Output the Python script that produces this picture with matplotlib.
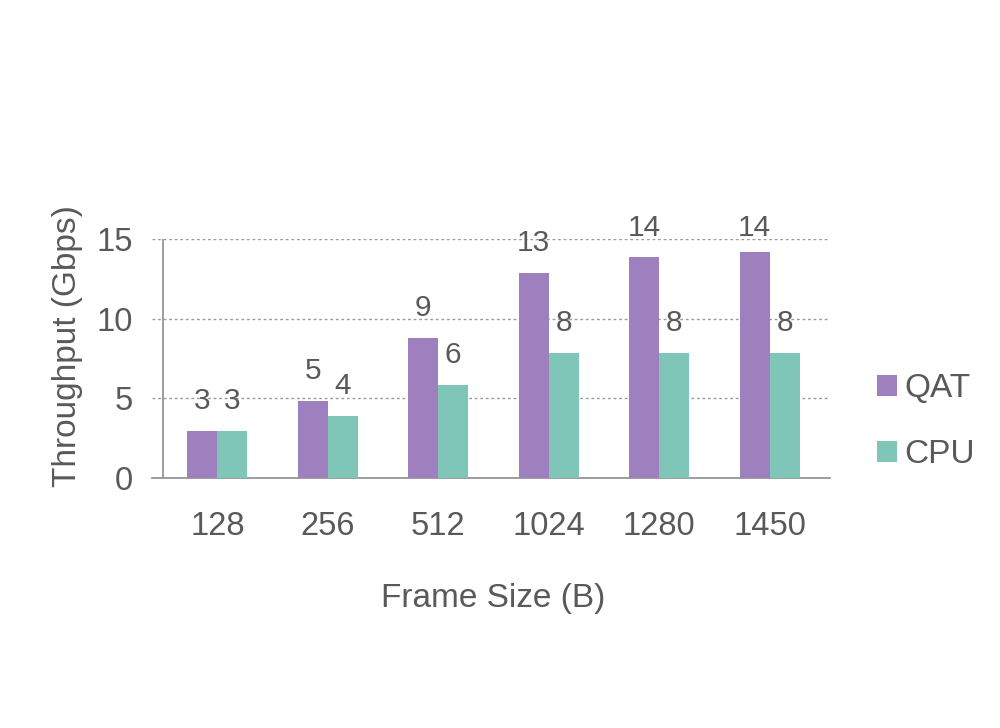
import numpy as np
import matplotlib
matplotlib.use("Agg")
import matplotlib.pyplot as plt

plt.rcParams['font.family'] = ['Liberation Sans', 'DejaVu Sans']

# data
frame_sizes = ['128', '256', '512', '1024', '1280', '1450']
qat = [2.95, 4.85, 8.8, 12.85, 13.85, 14.2]
cpu = [2.95, 3.85, 5.8, 7.85, 7.85, 7.85]
qat_labels = ['3', '5', '9', '13', '14', '14']
cpu_labels = ['3', '4', '6', '8', '8', '8']

txt = '#595959'
purple = '#9d80bd'
teal = '#80c6b8'

fig = plt.figure(figsize=(10, 7.28), dpi=100)
ax = fig.add_axes([0.152, 0.3438, 0.678, 0.3279])

x = np.arange(len(frame_sizes))
w = 0.2715
b1 = ax.bar(x - w/2, qat, w, color=purple, label='QAT', zorder=3)
b2 = ax.bar(x + w/2, cpu, w, color=teal, label='CPU', zorder=3)

# labels sit ~22px above the bar, but not higher than the plot top allows
def put_labels(bars, labels):
    for rect, lab in zip(bars, labels):
        y = min(rect.get_height() + 1.38, 15.2)
        ax.text(rect.get_x() + rect.get_width()/2, y, lab, ha='center',
                va='baseline', fontsize=21.5, color=txt, zorder=4,
                clip_on=False)

put_labels(b1, qat_labels)
put_labels(b2, cpu_labels)

ax.set_xlim(-0.591, 5.545)
ax.set_ylim(0, 15)
ax.set_yticks([0, 5, 10, 15])
ax.set_xticks(x)
ax.set_xticklabels(frame_sizes)
ax.tick_params(length=0, labelsize=23.5, labelcolor=txt)
ax.tick_params(axis='y', pad=14)
ax.tick_params(axis='x', pad=24)

for g in [5, 10, 15]:
    ax.axhline(g, color='#9a9a9a', lw=1, linestyle=(0, (2, 2)), zorder=1)

for s in ['top', 'right', 'left']:
    ax.spines[s].set_visible(False)
ax.spines['bottom'].set_color('#8c8c8c')
ax.spines['bottom'].set_linewidth(1.2)
ax.axvline(-0.491, color='#8c8c8c', lw=1.2, zorder=2)

fig.text(0.068, 1 - 346/728, 'Throughput (Gbps)', rotation=90, ha='center',
         va='center', fontsize=24, color=txt)
fig.text(0.4935, 1 - 598.5/728, 'Frame Size (B)', ha='center', va='center',
         fontsize=24, color=txt)

ax.legend(loc='center left', bbox_to_anchor=(0.877, 1 - 421.5/728),
          bbox_transform=fig.transFigure, frameon=False, fontsize=24,
          labelcolor=txt, handlelength=0.6, handleheight=0.6,
          handletextpad=0.22, labelspacing=1.05, borderpad=0, borderaxespad=0)

fig.savefig('out.png', dpi=100, facecolor='white')
